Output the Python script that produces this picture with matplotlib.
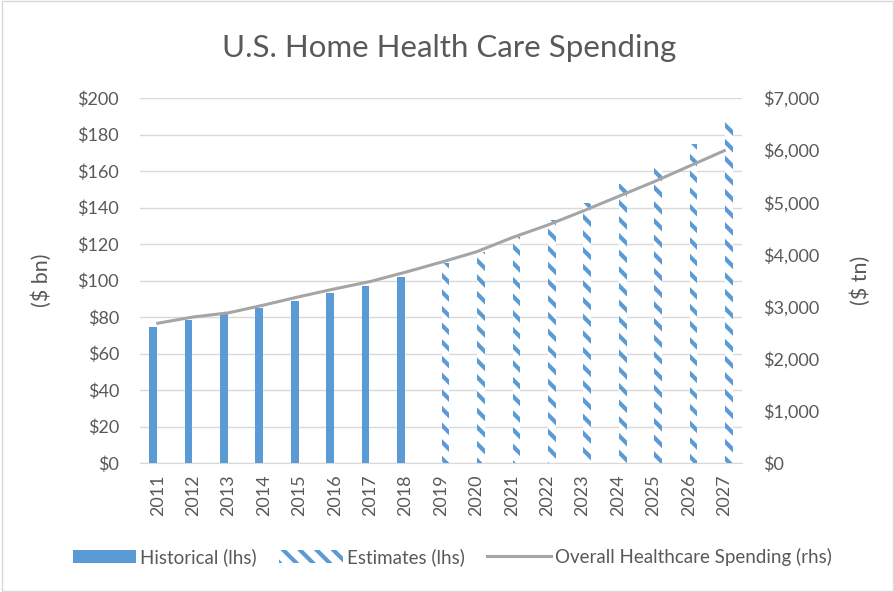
import matplotlib
matplotlib.use("Agg")
import matplotlib.pyplot as plt
import numpy as np
from matplotlib.patches import Rectangle

years = [str(y) for y in range(2011, 2028)]
historical = [74.5, 78.4, 81.6, 85.0, 89.0, 93.0, 97.0, 102.0, 0, 0, 0, 0, 0, 0, 0, 0, 0]
estimates = [0, 0, 0, 0, 0, 0, 0, 0, 109.5, 115.8, 124.0, 133.0, 142.3, 152.7, 163.3, 174.8, 187.0]
overall = [2680, 2800, 2880, 3030, 3190, 3340, 3480, 3660, 3850, 4050, 4320, 4560, 4830, 5110, 5390, 5690, 5990]
left_ticks = [0, 20, 40, 60, 80, 100, 120, 140, 160, 180, 200]
right_ticks = [0, 1000, 2000, 3000, 4000, 5000, 6000, 7000]

plt.rcParams['font.family'] = ['Lato', 'DejaVu Sans']
plt.rcParams['hatch.linewidth'] = 3.0
TXT = '#595959'
BLUE = '#5B9BD5'
GRAY = '#A5A5A5'

fig = plt.figure(figsize=(8.95, 5.92), dpi=100)
fig.patches.append(Rectangle((0.002, 0.002), 0.996, 0.996, transform=fig.transFigure,
                             fill=False, edgecolor='#D9D9D9', linewidth=1))
ax = fig.add_axes([140/895, 1 - 463/592, 602/895, 365/592])
x = np.arange(len(years))
bw = 0.22
off = 0.13
ax.bar(x - off, historical, width=bw, color=BLUE, linewidth=0, label='Historical (lhs)', zorder=3)
ax.bar(x + off, estimates, width=bw, facecolor='white', edgecolor=BLUE, hatch='\\\\',
       linewidth=0, label='Estimates (lhs)', zorder=3)
ax.set_ylim(0, 200)
ax.set_xlim(-0.5, len(years) - 0.5)
ax.set_yticks(left_ticks)
ax.set_yticklabels([f'${v}' for v in left_ticks])
ax.set_xticks(x)
ax.set_xticklabels(years, rotation=90)
ax.grid(axis='y', color='#D9D9D9', linewidth=1, zorder=0)
for s in ['top', 'left', 'right']:
    ax.spines[s].set_visible(False)
ax.spines['bottom'].set_color('#D9D9D9')
ax.tick_params(axis='both', length=0, colors=TXT, labelsize=13)
ax.tick_params(axis='y', pad=15)
ax.tick_params(axis='x', pad=8)
ax.set_ylabel('($ bn)', color=TXT, fontsize=15.5)
ax.yaxis.set_label_coords(-0.146, 0.5)

ax2 = ax.twinx()
ax2.plot(x, overall, color=GRAY, linewidth=2.2, label='Overall Healthcare Spending (rhs)', zorder=4)
ax2.set_ylim(0, 7000)
ax2.set_yticks(right_ticks)
ax2.set_yticklabels([f'${v:,}' for v in right_ticks])
for s in ['top', 'left', 'right', 'bottom']:
    ax2.spines[s].set_visible(False)
ax2.tick_params(axis='y', length=0, colors=TXT, labelsize=13, pad=15)
ax2.set_ylabel('($ tn)', color=TXT, fontsize=15.5, rotation=90)
ax2.yaxis.set_label_coords(1.179, 0.5)

fig.text(449/895, 1 - 48/592, 'U.S. Home Health Care Spending', ha='center', va='center',
         fontsize=22.5, color=TXT)

h1, l1 = ax.get_legend_handles_labels()
h2, l2 = ax2.get_legend_handles_labels()
fig.legend(h1 + h2, l1 + l2, loc='center', bbox_to_anchor=(452/895, 1 - 557/592), ncol=3,
           frameon=False, fontsize=13.5, labelcolor=TXT, handlelength=3.4, handletextpad=0.2,
           columnspacing=1.2)

fig.savefig('out.png', dpi=100)
